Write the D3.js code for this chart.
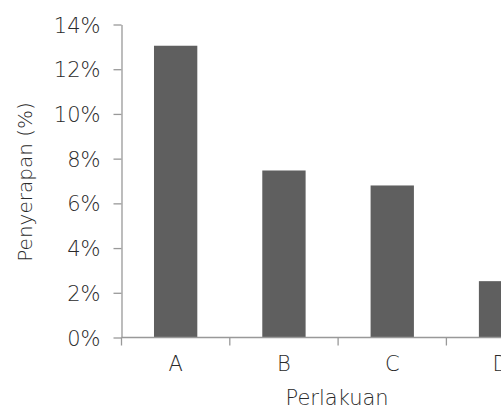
<!DOCTYPE html>
<html>
<head>
<meta charset="utf-8">
<script src="https://cdn.jsdelivr.net/npm/d3@7"></script>
<style>
  html, body { margin: 0; padding: 0; background: #fff; overflow: hidden; }
  svg { display: block; }
  text { font-family: "DejaVu Sans", sans-serif; font-weight: 200; fill: #2a2a2a; }
</style>
</head>
<body>
<svg id="chart" width="501" height="409"></svg>
<script>
// Treatment categories and absorption values (percent)
const categories = ["A", "B", "C", "D"];
const absorption = [13.05, 7.47, 6.80, 2.52];
const yTickValues = [0, 2, 4, 6, 8, 10, 12, 14];
const xTitle = "Perlakuan";
const yTitle = "Penyerapan (%)";

const svg = d3.select("#chart");
const plot = { left: 121.5, top: 24.5, bottom: 337.5, step: 108.3 };
const plotRight = plot.left + plot.step * categories.length;
const fontSize = 21;

const x = d3.scaleBand()
  .domain(categories)
  .range([plot.left, plotRight])
  .paddingInner(0.6)
  .paddingOuter(0.3);

const y = d3.scaleLinear()
  .domain([0, 14])
  .range([plot.bottom, plot.top]);

const axisColor = "#999";

// Bars
svg.append("g")
  .selectAll("rect")
  .data(categories.map((c, i) => ({ c, v: absorption[i] })))
  .join("rect")
  .attr("x", d => x(d.c))
  .attr("y", d => y(d.v))
  .attr("width", x.bandwidth())
  .attr("height", d => y(0) - y(d.v))
  .attr("fill", "#5f5f5f");

// Y axis
const yAxis = svg.append("g")
  .attr("transform", `translate(${plot.left},0)`)
  .call(d3.axisLeft(y)
    .tickValues(yTickValues)
    .tickFormat(d => d + "%")
    .tickSizeInner(8)
    .tickSizeOuter(0)
    .tickPadding(13));
yAxis.select(".domain").attr("stroke", axisColor).attr("stroke-width", 1.3);
yAxis.selectAll(".tick line").attr("stroke", axisColor).attr("stroke-width", 1.3);
yAxis.selectAll(".tick text")
  .attr("font-size", fontSize)
  .attr("font-family", null)
  .attr("fill", null)
  .attr("dy", "0.36em");

// X axis: labels at band centres, tick marks at band boundaries
const xAxis = svg.append("g")
  .attr("transform", `translate(0,${plot.bottom})`)
  .call(d3.axisBottom(x).tickSize(0).tickPadding(19));
xAxis.select(".domain").remove();
xAxis.selectAll(".tick text")
  .attr("font-size", fontSize)
  .attr("font-family", null)
  .attr("fill", null);

const bounds = categories.map(c => x(c) - x.step() * x.paddingOuter());
bounds.push(plotRight);
const xLine = svg.append("g").attr("transform", `translate(0,${plot.bottom})`);
xLine.append("line")
  .attr("x1", plot.left).attr("x2", plotRight)
  .attr("stroke", axisColor).attr("stroke-width", 1.3);
xLine.selectAll("line.bound")
  .data(bounds)
  .join("line")
  .attr("class", "bound")
  .attr("x1", d => d).attr("x2", d => d)
  .attr("y1", 0).attr("y2", 8)
  .attr("stroke", axisColor).attr("stroke-width", 1.3);

// Axis titles
svg.append("text")
  .attr("x", (plot.left + plotRight) / 2 - 1)
  .attr("y", 405)
  .attr("text-anchor", "middle")
  .attr("font-size", fontSize)
  .text(xTitle);

svg.append("text")
  .attr("transform", `translate(32,${(plot.top + plot.bottom) / 2 + 1}) rotate(-90)`)
  .attr("text-anchor", "middle")
  .attr("font-size", 20)
  .text(yTitle);
</script>
</body>
</html>
